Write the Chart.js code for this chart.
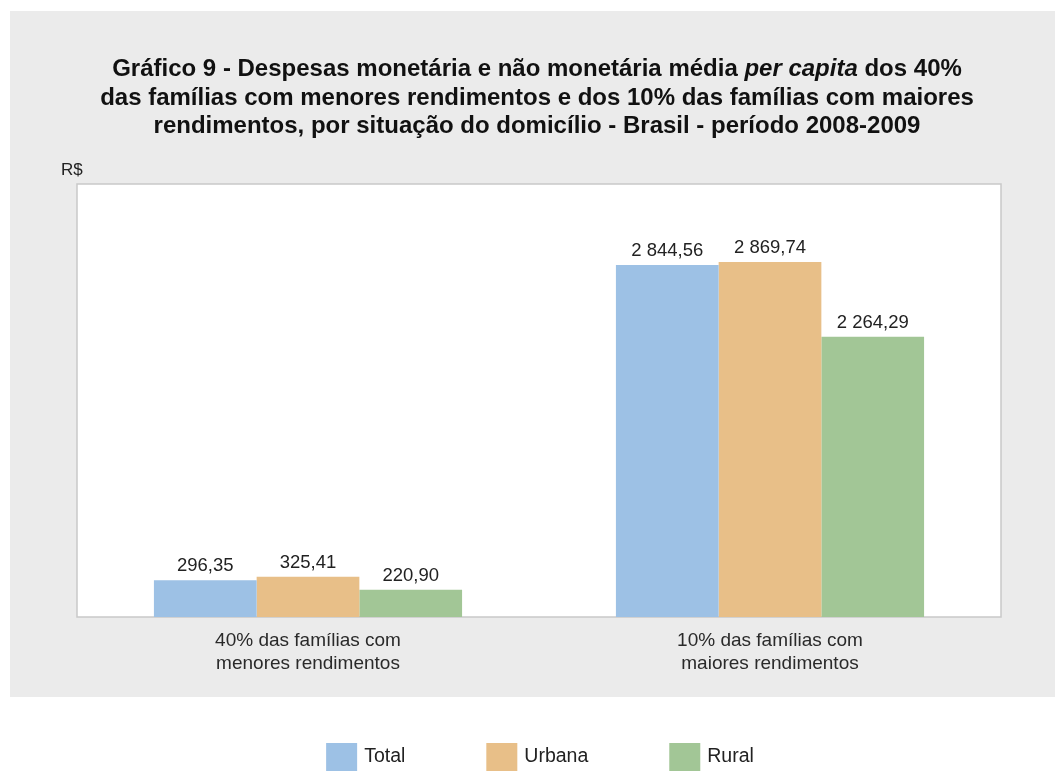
<!DOCTYPE html>
<html>
<head>
<meta charset="utf-8">
<script src="https://cdn.jsdelivr.net/npm/chart.js@4.4.1/dist/chart.umd.min.js"></script>
<style>
html,body{margin:0;padding:0;background:#fff;}
#wrap{position:relative;width:1055px;height:771px;}
</style>
</head>
<body>
<div id="wrap"><canvas id="c" width="1055" height="771"></canvas></div>
<script>
const categories = [
  ["40% das famílias com", "menores rendimentos"],
  ["10% das famílias com", "maiores rendimentos"]
];
const seriesNames = ["Total", "Urbana", "Rural"];
const totalValues = [296.35, 2844.56];
const urbanaValues = [325.41, 2869.74];
const ruralValues = [220.90, 2264.29];
const seriesColors = ["#9DC1E5", "#E8BF88", "#A2C696"];
const titleLines = [
  [["Gráfico 9 - Despesas monetária e não monetária média ", false], ["per capita", true], [" dos 40%", false]],
  [["das famílias com menores rendimentos e dos 10% das famílias com maiores", false]],
  [["rendimentos, por situação do domicílio - Brasil - período 2008-2009", false]]
];
const unitLabel = "R$";

const FONT = "'Liberation Sans', Arial, sans-serif";

function fmt(v) {
  const parts = v.toFixed(2).split(".");
  const intPart = parts[0].replace(/\B(?=(\d{3})+(?!\d))/g, " ");
  return intPart + "," + parts[1];
}

const backgroundPlugin = {
  id: "bgPanel",
  beforeDraw(chart) {
    const ctx = chart.ctx;
    const a = chart.chartArea;
    ctx.save();
    ctx.fillStyle = "#ffffff";
    ctx.fillRect(0, 0, chart.width, chart.height);
    ctx.fillStyle = "#EBEBEB";
    ctx.fillRect(10, 11, chart.width - 10, 686);
    ctx.fillStyle = "#ffffff";
    ctx.fillRect(a.left, a.top, a.right - a.left, a.bottom - a.top);
    ctx.strokeStyle = "#C9C9C9";
    ctx.lineWidth = 1.5;
    ctx.strokeRect(a.left, a.top, a.right - a.left, a.bottom - a.top);
    ctx.restore();
  }
};

const textPlugin = {
  id: "texts",
  afterDraw(chart) {
    const ctx = chart.ctx;
    ctx.save();
    const cx = 537;
    const baselines = [76, 104.5, 133];
    ctx.fillStyle = "#111111";
    ctx.textBaseline = "alphabetic";
    ctx.textAlign = "left";
    titleLines.forEach((segs, i) => {
      let total = 0;
      segs.forEach(([t, it]) => {
        ctx.font = (it ? "italic " : "") + "bold 24px " + FONT;
        total += ctx.measureText(t).width;
      });
      let x = cx - total / 2;
      segs.forEach(([t, it]) => {
        ctx.font = (it ? "italic " : "") + "bold 24px " + FONT;
        ctx.fillText(t, x, baselines[i]);
        x += ctx.measureText(t).width;
      });
    });
    ctx.font = "17px " + FONT;
    ctx.fillStyle = "#222222";
    ctx.fillText(unitLabel, 61, 175);
    ctx.font = "18.5px " + FONT;
    ctx.textAlign = "center";
    ctx.textBaseline = "alphabetic";
    ctx.fillStyle = "#222222";
    chart.data.datasets.forEach((ds, di) => {
      const meta = chart.getDatasetMeta(di);
      meta.data.forEach((bar, i) => {
        ctx.fillText(fmt(ds.data[i]), bar.x, bar.y - 9);
      });
    });
    const boxW = 31, boxH = 28, gapText = 7, gapItem = 81, boxTop = 743;
    ctx.font = "19.5px " + FONT;
    ctx.textAlign = "left";
    ctx.textBaseline = "middle";
    const widths = chart.data.datasets.map(ds => boxW + gapText + ctx.measureText(ds.label).width);
    const totalW = widths.reduce((s, w) => s + w, 0) + gapItem * (widths.length - 1);
    let lx = 540 - totalW / 2;
    chart.data.datasets.forEach((ds, di) => {
      ctx.fillStyle = ds.backgroundColor;
      ctx.fillRect(lx, boxTop, boxW, boxH);
      ctx.fillStyle = "#222222";
      ctx.fillText(ds.label, lx + boxW + gapText, boxTop + 14);
      lx += widths[di] + gapItem;
    });
    ctx.restore();
  }
};

const valueArrays = [totalValues, urbanaValues, ruralValues];

new Chart(document.getElementById("c"), {
  type: "bar",
  data: {
    labels: categories,
    datasets: seriesNames.map((name, i) => ({
      label: name,
      data: valueArrays[i],
      backgroundColor: seriesColors[i],
      borderWidth: 0,
      categoryPercentage: 0.667,
      barPercentage: 1.0
    }))
  },
  options: {
    responsive: false,
    animation: false,
    devicePixelRatio: 1,
    layout: { padding: { left: 77, right: 54, top: 184, bottom: 0 } },
    plugins: {
      legend: { display: false },
      title: { display: false },
      tooltip: { enabled: false }
    },
    scales: {
      x: {
        grid: { display: false, drawTicks: false },
        border: { display: false },
        ticks: {
          color: "#2a2a2a",
          font: { family: FONT, size: 19, lineHeight: 1.22 },
          padding: 12,
          maxRotation: 0,
          autoSkip: false
        },
        afterFit(scale) { scale.height = 154; }
      },
      y: {
        display: false,
        min: 0,
        max: 3500
      }
    }
  },
  plugins: [backgroundPlugin, textPlugin]
});
</script>
</body>
</html>
